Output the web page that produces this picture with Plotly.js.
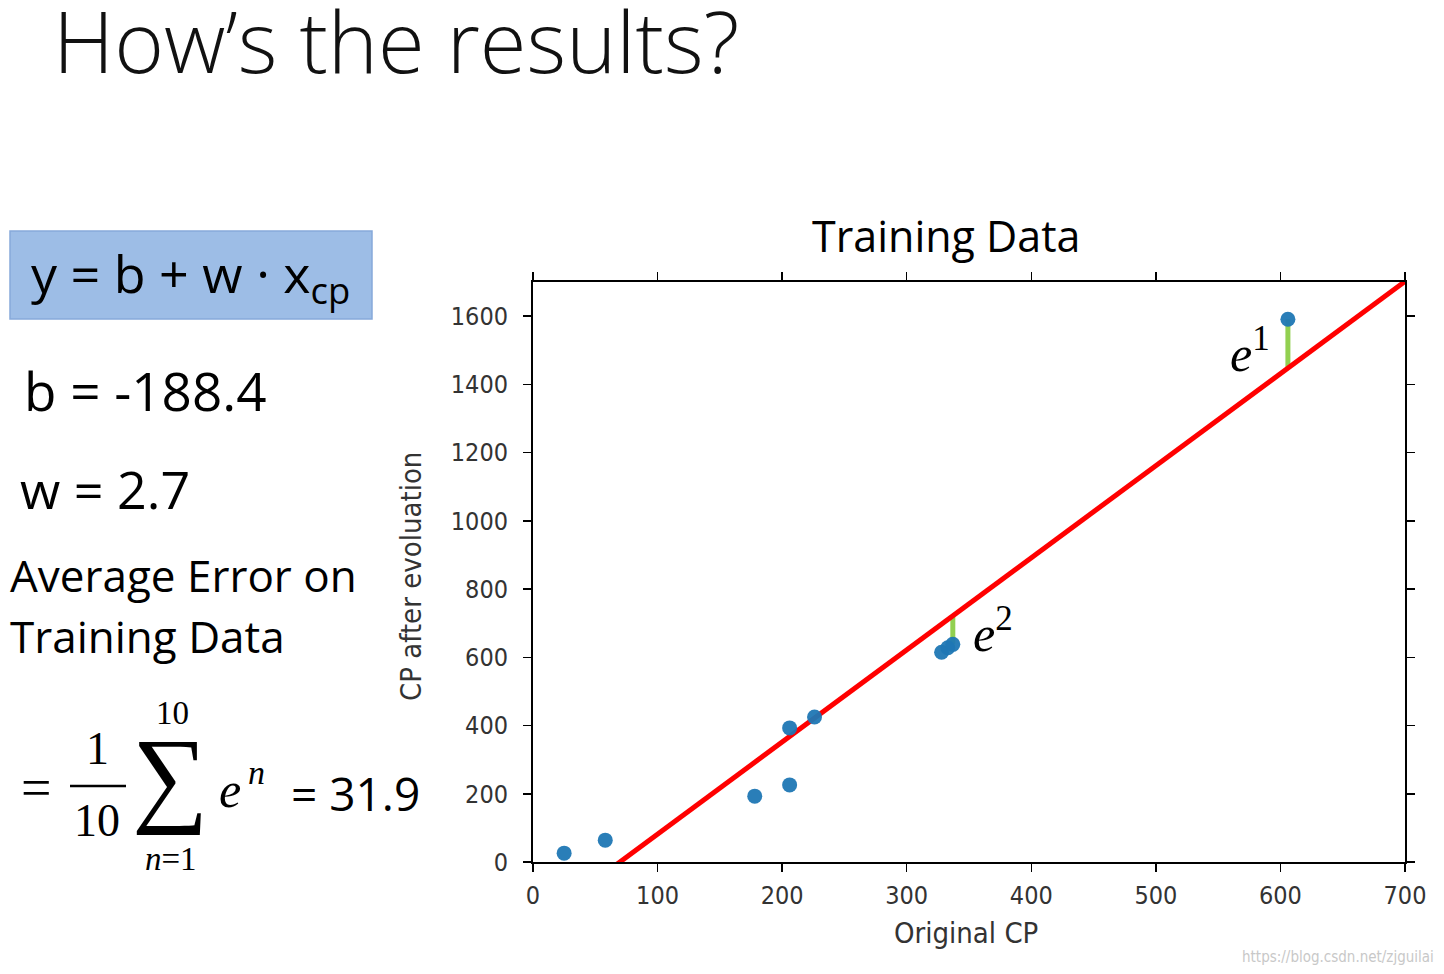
<!DOCTYPE html>
<html>
<head>
<meta charset="utf-8">
<script src="https://cdn.plot.ly/plotly-3.0.1.min.js"></script>
<style>
html,body{margin:0;padding:0;background:#fff;}
#chart{width:1444px;height:974px;}
</style>
</head>
<body>
<div id="chart"></div>
<script>
// Data
const originalCP = [25, 58, 178, 206, 206, 226, 328, 333, 337, 606];
const cpAfterEvolution = [26, 64, 193, 226, 393, 425, 615, 628, 638, 1591];
const b = -188.4;
const w = 2.7;
const lineX = [0, 700];
const errorPoints = [9, 8];        // indices of points with drawn error e1, e2
const errorLabels = ['<i>e</i><sup>1</sup>', '<i>e</i><sup>2</sup>'];
const xTicks = [0, 100, 200, 300, 400, 500, 600, 700];
const yTicks = [0, 200, 400, 600, 800, 1000, 1200, 1400, 1600];

// pixel -> paper helpers for decorative text placement
const L = 533, R = 1405, T = 282, B = 862;
const px = v => (v - L) / (R - L);
const py = v => (B - v) / (B - T);

const lineY = lineX.map(x => b + w * x);

const traces = [];
// error segments
errorPoints.forEach(i => {
  const x = originalCP[i];
  traces.push({
    x: [x, x], y: [cpAfterEvolution[i], b + w * x],
    mode: 'lines', line: {color: '#92d050', width: 5},
    hoverinfo: 'skip', showlegend: false
  });
});
traces.push({
  x: lineX, y: lineY, mode: 'lines',
  line: {color: '#ff0000', width: 5}, showlegend: false
});
traces.push({
  x: originalCP, y: cpAfterEvolution, mode: 'markers',
  marker: {color: '#1f77b4', size: 15, opacity: 0.95}, showlegend: false
});

const condensed = '"Liberation Sans Narrow", "DejaVu Sans Condensed", "DejaVu Sans", sans-serif';
const tickFont = {family: condensed, size: 25, color: '#333'};
const serif = '"Liberation Serif", "DejaVu Serif", serif';
const sans = '"Open Sans", "Noto Sans", sans-serif';

const ann = [];
const addText = (text, x, y, size, opts = {}) => ann.push(Object.assign({
  text: text, xref: 'paper', yref: 'paper', x: px(x), y: py(y),
  showarrow: false, xanchor: 'center', yanchor: 'middle',
  font: {family: sans, size: size, color: '#000'}
}, opts));

// Slide title
addText("How’s the results?", 51, 40, 85, {xanchor: 'left', font: {family: '"Open Sans", sans-serif', size: 85, color: '#111', weight: 300}});
// Chart title
addText('Training Data', 946, 235, 43);
// axis titles
addText('Original CP', 966, 933, 29, {font: {family: condensed, size: 29, color: '#333'}});
addText('CP after evoluation', 411, 577, 29, {textangle: -90, font: {family: condensed, size: 29, color: '#333'}});
// error labels
const errPos = [[1250, 350], [993, 630]];
errorLabels.forEach((t, k) => addText(t, errPos[k][0], errPos[k][1], 50, {font: {family: serif, size: 50, color: '#000'}}));

// left panel
addText('y = b + w · x<sub>cp</sub>', 190, 276, 52, {font: {family: sans, size: 52, color: '#000'}});
addText('b = -188.4', 22, 390, 53, {xanchor: 'left'});
addText('w = 2.7', 18, 488, 52, {xanchor: 'left'});
addText('Average Error on', 8, 575, 44, {xanchor: 'left'});
addText('Training Data', 8, 636, 44, {xanchor: 'left'});
// formula
addText('=', 36, 788, 54, {font: {family: serif, size: 54, color: '#000'}});
addText('1', 97, 748, 46, {font: {family: serif, size: 46, color: '#000'}});
addText('10', 97, 820, 46, {font: {family: serif, size: 46, color: '#000'}});
addText('10', 172, 713, 33, {font: {family: serif, size: 33, color: '#000'}});
addText('∑', 170, 776, 107, {font: {family: serif, size: 107, color: '#000'}});
addText('<i>n</i>=1', 171, 859, 33, {font: {family: serif, size: 33, color: '#000'}});
addText('<i>e</i>', 230, 790, 50, {font: {family: serif, size: 50, color: '#000'}});
addText('<i>n</i>', 256, 772, 34, {font: {family: serif, size: 34, color: '#000'}});
addText('= 31.9', 355, 793, 46, {font: {family: sans, size: 46, color: '#000'}});
// watermark
addText('https://blog.csdn.net/zjguilai', 1436, 957, 14, {xanchor: 'right', font: {family: condensed, size: 15, color: '#c8c8c8'}});

const shapes = [
  {type: 'rect', xref: 'paper', yref: 'paper', x0: px(10), x1: px(372), y0: py(231), y1: py(319),
   fillcolor: '#9dbde6', line: {color: '#86a9da', width: 1.5}, layer: 'below'},
  {type: 'line', xref: 'paper', yref: 'paper', x0: px(70), x1: px(126), y0: py(786), y1: py(786),
   line: {color: '#000', width: 2.5}}
];

const axisCommon = {
  showline: true, linecolor: '#000', linewidth: 2, mirror: 'ticks',
  ticks: 'outside', ticklen: 8, tickwidth: 1.5, tickcolor: '#000',
  showgrid: false, zeroline: false, tickfont: tickFont, fixedrange: true
};

const layout = {
  width: 1444, height: 974,
  margin: {l: L, r: 1444 - R, t: T, b: 974 - B},
  paper_bgcolor: '#fff', plot_bgcolor: '#fff',
  xaxis: Object.assign({}, axisCommon, {range: [0, 700], tickvals: xTicks, ticklabelstandoff: 2}),
  yaxis: Object.assign({}, axisCommon, {range: [0, 1700], tickvals: yTicks, ticklabelstandoff: 10}),
  annotations: ann, shapes: shapes, showlegend: false
};

Plotly.newPlot('chart', traces, layout, {displayModeBar: false, staticPlot: true});
</script>
</body>
</html>
